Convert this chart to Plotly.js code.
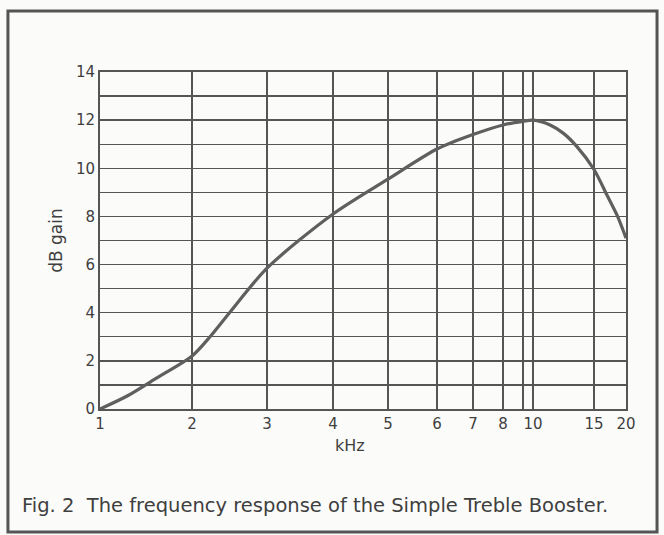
<!DOCTYPE html>
<html>
<head>
<meta charset="utf-8">
<script src="https://cdn.plot.ly/plotly-3.0.1.min.js"></script>
<style>html,body{margin:0;padding:0;background:#fbfbf9;}#chart{width:664px;height:535px;}</style>
</head>
<body>
<div id="chart"></div>
<script>
// Frequency response
const kHz    = [1, 1.3, 1.6, 2, 2.24, 2.5, 3, 4, 5, 6, 7, 8, 9, 10, 11.4, 12.5, 13.6, 15, 17, 18.6, 20];
const gainDb = [0, 0.55, 1.25, 2.2, 3.0, 4.0, 5.85, 8.1, 9.55, 10.8, 11.4, 11.8, 11.95, 12.0, 11.8, 11.45, 10.9, 9.95, 8.9, 8.05, 7.1];

// The printed frequency grid (non-uniform, hand-drawn scale)
const gridKHz    = [1, 2, 3, 4, 5, 6, 7, 8, 9, 10, 15, 20];
const gridLabels = ['1','2','3','4','5','6','7','8','','10','15','20'];
// fraction of axis length at which each printed grid line sits
const gridFrac   = [0, 0.175, 0.3175, 0.443, 0.5475, 0.6407, 0.7091, 0.7662, 0.8042, 0.8232, 0.9392, 1];

const yTicks = [0, 2, 4, 6, 8, 10, 12, 14];

function scaleX(f) {
  for (let i = 0; i < gridKHz.length - 1; i++) {
    if (f <= gridKHz[i + 1]) {
      const t = (f - gridKHz[i]) / (gridKHz[i + 1] - gridKHz[i]);
      return gridFrac[i] + t * (gridFrac[i + 1] - gridFrac[i]);
    }
  }
  return 1;
}

const ink = '#3f3f3f';
const font = "'DejaVu Sans', 'Liberation Sans', sans-serif";

const trace = {
  x: kHz.map(scaleX),
  y: gainDb,
  type: 'scatter',
  mode: 'lines',
  line: {color: '#5f5f5f', width: 3.2, shape: 'spline', smoothing: 0.8},
  cliponaxis: false,
  hoverinfo: 'skip'
};

const layout = {
  width: 664, height: 535,
  margin: {l: 100, r: 38, t: 72, b: 126},
  paper_bgcolor: '#fbfbf9',
  plot_bgcolor: '#fbfbf9',
  showlegend: false,
  xaxis: {
    range: [0, 1],
    tickmode: 'array',
    tickvals: gridKHz.map(scaleX),
    ticktext: gridLabels,
    showgrid: true, gridcolor: '#555', gridwidth: 1.4,
    zeroline: false,
    showline: true, mirror: true, linecolor: '#555', linewidth: 2,
    ticks: '',
    tickfont: {family: font, size: 15, color: ink},
    fixedrange: true
  },
  yaxis: {
    range: [0, 14],
    tickmode: 'array',
    tickvals: yTicks,
    ticktext: yTicks.map(String),
    showgrid: true, gridcolor: '#555', gridwidth: 1.4,
    minor: {dtick: 1, showgrid: true, gridcolor: '#555', gridwidth: 1.4},
    zeroline: false,
    showline: true, mirror: true, linecolor: '#555', linewidth: 2,
    ticks: '',
    tickfont: {family: font, size: 15, color: ink},
    fixedrange: true
  },
  annotations: [
    {text: 'kHz', xref: 'paper', yref: 'paper', x: 0.475, y: -0.107, yanchor: 'middle',
     showarrow: false, font: {family: font, size: 16, color: ink}},
    {text: 'dB gain', xref: 'paper', yref: 'paper', x: -0.085, y: 0.5, textangle: -90,
     xanchor: 'center', yanchor: 'middle',
     showarrow: false, font: {family: font, size: 17, color: ink}},
    {text: 'Fig. 2  The frequency response of the Simple Treble Booster.', xref: 'paper', yref: 'paper',
     x: -0.152, y: -0.285, xanchor: 'left', yanchor: 'middle', showarrow: false,
     font: {family: font, size: 19.5, color: ink}}
  ],
  shapes: [
    {type: 'rect', xref: 'paper', yref: 'paper', x0: -0.175, x1: 1.059, y0: -0.365, y1: 1.181,
     line: {color: '#555', width: 3}, layer: 'below'}
  ]
};

Plotly.newPlot('chart', [trace], layout, {displayModeBar: false, staticPlot: true});
</script>
</body>
</html>
